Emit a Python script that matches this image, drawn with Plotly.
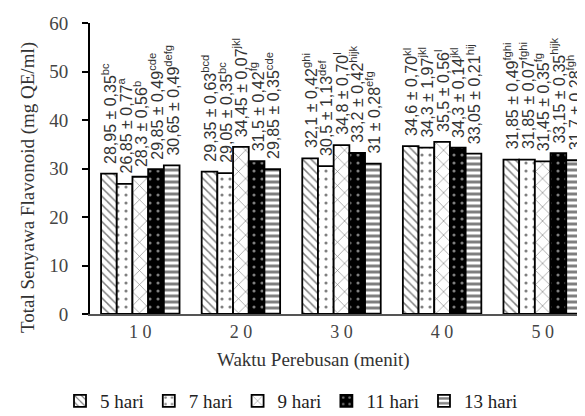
import plotly.graph_objects as go

categories = ["10", "20", "30", "40", "50"]
tick_labels = ["1 0", "2 0", "3 0", "4 0", "5 0"]
series_names = ["5 hari", "7 hari", "9 hari", "11 hari", "13 hari"]

v5 = [28.95, 29.35, 32.1, 34.6, 31.85]
v7 = [26.85, 29.05, 30.5, 34.3, 31.85]
v9 = [28.3, 34.45, 34.8, 35.5, 31.45]
v11 = [29.85, 31.5, 33.2, 34.3, 33.15]
v13 = [30.65, 29.85, 31.0, 33.05, 31.7]

sd5 = ["0,35", "0,63", "0,42", "0,70", "0,49"]
sd7 = ["0,77", "0,35", "1,13", "1,97", "0,07"]
sd9 = ["0,56", "0,07", "0,70", "0,56", "0,35"]
sd11 = ["0,49", "0,42", "0,42", "0,14", "0,35"]
sd13 = ["0,49", "0,35", "0,28", "0,21", "0,28"]

let5 = ["bc", "bcd", "ghi", "kl", "fghi"]
let7 = ["a", "bc", "def", "jkl", "fghi"]
let9 = ["b", "jkl", "l", "l", "fg"]
let11 = ["cde", "fg", "hijk", "jkl", "hijk"]
let13 = ["defg", "cde", "efg", "hij", "fgh"]

values = [v5, v7, v9, v11, v13]
sds = [sd5, sd7, sd9, sd11, sd13]
lets = [let5, let7, let9, let11, let13]

patterns = [
    dict(shape="\\", bgcolor="white", fgcolor="black", size=6, solidity=0.25),
    dict(shape=".", bgcolor="white", fgcolor="black", size=8, solidity=0.12),
    dict(shape="x", bgcolor="white", fgcolor="black", size=10, solidity=0.12),
    dict(shape=".", bgcolor="black", fgcolor="white", size=8, solidity=0.12),
    dict(shape="-", bgcolor="white", fgcolor="black", size=6, solidity=0.5),
]

W, H = 585, 416
ML, MR, MT, MB = 82, 0, 15, 110
BARGAP = 0.22
plot_w = W - ML - MR
plot_h = H - MT - MB
bar_px = plot_w / len(categories) * (1 - BARGAP) / len(series_names)


def fmt(v):
    return ("%g" % v).replace(".", ",")


fig = go.Figure()
annotations = []
n = len(series_names)
for i, (name, vals, sd, lt, pat) in enumerate(zip(series_names, values, sds, lets, patterns)):
    fig.add_trace(go.Bar(
        x=categories, y=vals, name=name,
        marker=dict(color="white", line=dict(color="black", width=1.8), pattern=pat),
    ))
    for j, (v, s, l) in enumerate(zip(vals, sd, lt)):
        annotations.append(dict(
            x=j, y=v, xref="x", yref="y",
            xshift=(i - (n - 1) / 2) * bar_px, yshift=8,
            text=f"{fmt(v)} ± {s}<sup>{l}</sup>",
            textangle=-90, showarrow=False,
            xanchor="center", yanchor="bottom",
            font=dict(family="Liberation Sans", size=16, color="#333"),
        ))

annotations.append(dict(
    text="Total Senyawa Flavonoid (mg QE/ml)", textangle=-90,
    xref="paper", yref="paper", x=(20 - ML) / plot_w, y=(H - MB - 180) / plot_h,
    xanchor="center", yanchor="middle", showarrow=False,
    font=dict(family="Liberation Serif", size=19, color="#333"),
))
annotations.append(dict(
    text="Waktu Perebusan (menit)",
    xref="paper", yref="paper", x=(305 - ML) / plot_w, y=-(352 - (H - MB)) / plot_h,
    xanchor="center", yanchor="middle", showarrow=False,
    font=dict(family="Liberation Serif", size=19, color="#333"),
))

fig.update_layout(
    width=W, height=H,
    margin=dict(l=ML, r=MR, t=MT, b=MB, autoexpand=False),
    paper_bgcolor="white", plot_bgcolor="white",
    barmode="group", bargap=BARGAP, bargroupgap=0,
    font=dict(family="Liberation Serif", color="#333"),
    showlegend=True,
    legend=dict(orientation="h", x=(52 - ML) / plot_w, xanchor="left",
                y=-(393 - (H - MB)) / plot_h, yanchor="middle",
                font=dict(family="Liberation Serif", size=19, color="#222"),
                itemwidth=30, tracegroupgap=0),
    annotations=annotations,
    xaxis=dict(
        type="category", categoryorder="array", categoryarray=categories,
        range=[-0.5, len(categories) - 0.5], autorange=False, automargin=False,
        tickmode="array", tickvals=categories, ticktext=tick_labels,
        showline=True, linecolor="#555", linewidth=2, ticks="",
        tickfont=dict(family="Liberation Serif", size=18, color="#444"),
    ),
    yaxis=dict(
        range=[0, 60], dtick=10, showgrid=False, zeroline=False, automargin=False,
        showline=True, linecolor="black", linewidth=2,
        ticks="outside", ticklen=6, tickwidth=1.5, tickcolor="black",
        ticklabelstandoff=10,
        tickfont=dict(family="Liberation Serif", size=19, color="#444"),
    ),
)

fig.write_html("out.html")
